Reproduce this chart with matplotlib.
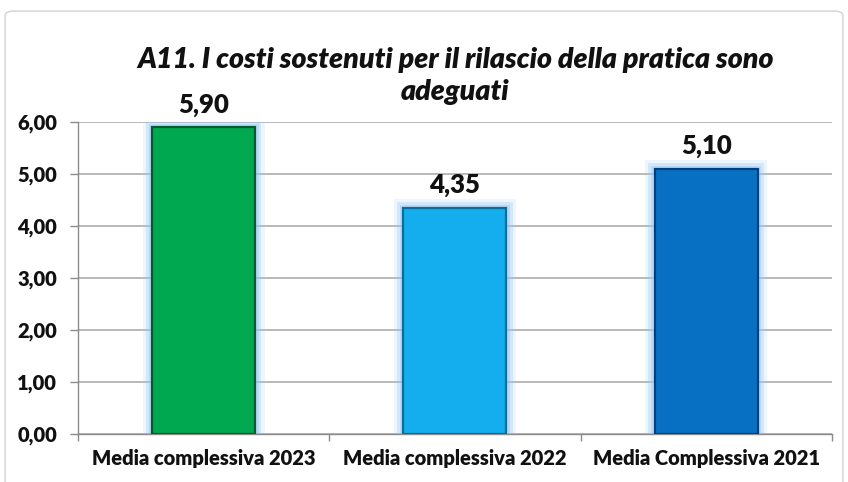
import matplotlib
matplotlib.use("Agg")
import matplotlib.pyplot as plt
from matplotlib.patches import FancyBboxPatch
from matplotlib.ticker import FixedLocator

plt.rcParams["font.family"] = ["Lato", "DejaVu Sans"]

categories = ["Media complessiva 2023", "Media complessiva 2022", "Media Complessiva 2021"]
values = [5.90, 4.35, 5.10]
value_labels = ["5,90", "4,35", "5,10"]
bar_colors = ["#00a850", "#14aeee", "#0870c2"]
edge_colors = ["#005c2c", "#0b6d98", "#003f7a"]
y_ticks = [0, 1, 2, 3, 4, 5, 6]
y_tick_labels = ["0,00", "1,00", "2,00", "3,00", "4,00", "5,00", "6,00"]

fig = plt.figure(figsize=(8.48, 4.82), dpi=100)
fig.patch.set_facecolor("white")

# thin light frame around the whole chart
frame = FancyBboxPatch((0.006, -0.02), 0.988, 0.997, boxstyle="round,pad=0,rounding_size=0.01",
                       transform=fig.transFigure, fill=False, edgecolor="#d9d9d9", linewidth=1.2)
fig.patches.append(frame)

ax = fig.add_axes([0.092, 0.0996, 0.889, 0.6474])
x = list(range(len(categories)))
width = 0.41

# soft blue glow behind each bar
for grow, alpha in [(0.075, 0.18), (0.05, 0.3), (0.028, 0.45)]:
    ax.bar(x, [v + grow * 2.2 for v in values], width=width + grow, color="#9cc8f5",
           alpha=alpha, linewidth=0, zorder=2)

ax.bar(x, values, width=width, color=bar_colors, edgecolor=edge_colors, linewidth=1.6, zorder=3)

for xi, v, lab in zip(x, values, value_labels):
    ax.text(xi, v + 0.2, lab, ha="center", va="bottom", fontsize=18.5, fontweight="heavy",
            color="#111111", zorder=4)

ax.set_xlim(-0.5, 2.5)
ax.set_ylim(0, 6)
ax.set_yticks(y_ticks)
ax.set_yticklabels(y_tick_labels, fontsize=14.5, fontweight="heavy", color="#111111")
ax.set_xticks(x)
ax.set_xticklabels(categories, fontsize=14.5, fontweight="heavy", color="#111111")
ax.tick_params(axis="x", which="major", length=0, pad=11)
ax.xaxis.set_minor_locator(FixedLocator([-0.5, 0.5, 1.5, 2.5]))
ax.tick_params(axis="x", which="minor", length=5, color="#8c8c8c", width=1)
ax.tick_params(axis="y", length=6, color="#8c8c8c", width=1, pad=9)

ax.grid(axis="y", color="#a6a6a6", linewidth=1.1, zorder=0)
ax.set_axisbelow(True)
for side in ["top", "right"]:
    ax.spines[side].set_visible(False)
for side in ["left", "bottom"]:
    ax.spines[side].set_color("#8c8c8c")
    ax.spines[side].set_linewidth(1)

fig.text(0.537, 0.876, "A11. I costi sostenuti per il rilascio della pratica sono",
         ha="center", va="center", fontsize=20.5, fontweight="heavy", style="italic", color="#111111")
fig.text(0.537, 0.809, "adeguati", ha="center", va="center", fontsize=20.5,
         fontweight="heavy", style="italic", color="#111111")

fig.savefig("out.png", dpi=100)
